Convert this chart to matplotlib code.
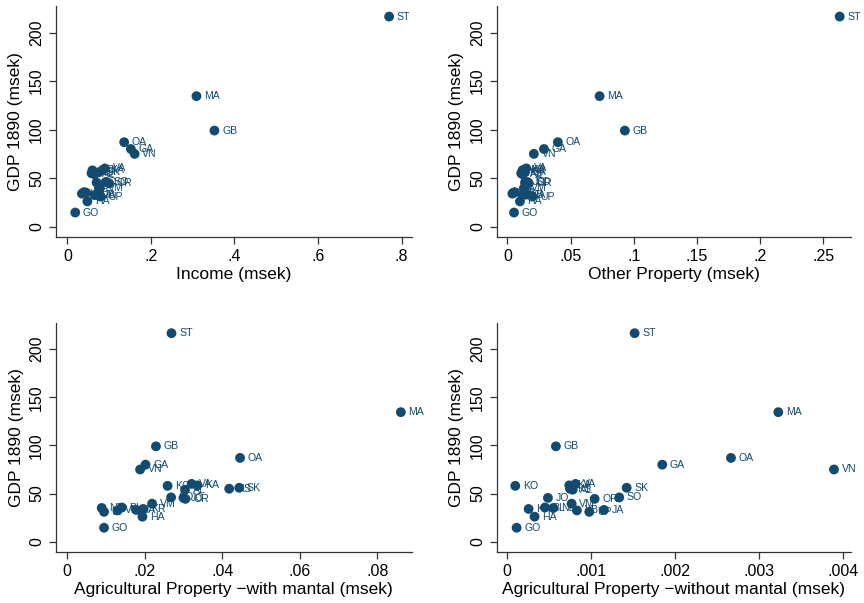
import matplotlib
matplotlib.use("Agg")
import matplotlib.pyplot as plt

plt.rcParams['font.family'] = ['Liberation Sans', 'DejaVu Sans']

counties = ["ST", "MA", "GB", "OA", "GA", "VN", "VA", "KA", "KO", "SK", "KS", "AL",
            "SO", "JO", "OR", "VM", "KR", "BL", "NB", "VB", "JA", "UP", "HA", "GO"]

gdp = [216.5, 134.5, 99, 87, 80, 75, 60, 58.5, 58, 56, 55, 54,
       46, 45.5, 44.5, 39.5, 34, 35.5, 35, 32.5, 33, 31, 26, 14.5]

income = [0.770, 0.309, 0.352, 0.136, 0.152, 0.161, 0.090, 0.085, 0.060, 0.075, 0.058, 0.065,
          0.092, 0.070, 0.100, 0.078, 0.035, 0.040, 0.045, 0.065, 0.070, 0.080, 0.048, 0.019]

other_property = [0.263, 0.073, 0.093, 0.040, 0.029, 0.021, 0.015, 0.013, 0.012, 0.014, 0.011, 0.012,
                  0.016, 0.014, 0.017, 0.013, 0.004, 0.006, 0.005, 0.012, 0.015, 0.0198, 0.010, 0.0053]

agri_with = [0.0269, 0.0861, 0.0229, 0.0446, 0.0202, 0.0188, 0.0321, 0.0336, 0.0259, 0.0444, 0.0418, 0.0304,
             0.0268, 0.0300, 0.0305, 0.0219, 0.0196, 0.0141, 0.0089, 0.0130, 0.0178, 0.0095, 0.0194, 0.0095]

agri_without = [0.001516, 0.003226, 0.000579, 0.002663, 0.001845, 0.003889, 0.000813, 0.000738, 0.000095,
                0.001421, 0.000746, 0.000778, 0.001333, 0.000484, 0.00104, 0.000766, 0.000254, 0.000448,
                0.000548, 0.000829, 0.001151, 0.000976, 0.000325, 0.000111]

xtitles = ["Income (msek)", "Other Property (msek)",
           "Agricultural Property \u2212with mantal (msek)",
           "Agricultural Property \u2212without mantal (msek)"]
xticks = [[0, 0.2, 0.4, 0.6, 0.8],
          [0, 0.05, 0.1, 0.15, 0.2, 0.25],
          [0, 0.02, 0.04, 0.06, 0.08],
          [0, 0.001, 0.002, 0.003, 0.004]]
xticklabels = [["0", ".2", ".4", ".6", ".8"],
               ["0", ".05", ".1", ".15", ".2", ".25"],
               ["0", ".02", ".04", ".06", ".08"],
               ["0", ".001", ".002", ".003", ".004"]]
xlims = [(-0.0278, 0.824), (-0.0084, 0.2717), (-0.0029, 0.0889), (-0.000126, 0.004088)]
yticks = [0, 50, 100, 150, 200]

W, H = 864, 603
fig = plt.figure(figsize=(W / 100, H / 100), dpi=100)
# axes boxes in pixels: left, top, right, bottom
boxes = [(55.7, 6, 411.7, 237.3), (496.7, 6, 850.7, 237.3),
         (56, 322.7, 411.7, 552.3), (496.7, 322.7, 850.7, 552.3)]
series = [income, other_property, agri_with, agri_without]
color = "#134a70"

for i in range(4):
    l, t, r, b = boxes[i]
    ax = fig.add_axes([l / W, 1 - b / H, (r - l) / W, (b - t) / H])
    xs = series[i]
    ax.scatter(xs, gdp, s=50, color=color, edgecolors='none', zorder=3)
    for x, y, name in zip(xs, gdp, counties):
        ax.annotate(name, (x, y), xytext=(5.5, 0), textcoords='offset points',
                    va='center', ha='left', fontsize=7.6, color=color, zorder=4)
    ax.set_xlim(*xlims[i])
    ax.set_ylim(-11, 227.4)
    ax.set_xticks(xticks[i])
    ax.set_xticklabels(xticklabels[i])
    ax.set_yticks(yticks)
    ax.set_yticklabels([str(v) for v in yticks], rotation=90, va='center')
    ax.spines['top'].set_visible(False)
    ax.spines['right'].set_visible(False)
    for sp in ('left', 'bottom'):
        ax.spines[sp].set_color('#333333')
        ax.spines[sp].set_linewidth(0.9)
    ax.tick_params(axis='both', direction='out', length=5, width=0.9, colors='#333333',
                   labelsize=11.5, labelcolor='black')
    ax.set_xlabel(xtitles[i], fontsize=12.5, labelpad=2)
    ax.set_ylabel("GDP 1890 (msek)", fontsize=12.5, labelpad=4)
    ax.patch.set_alpha(0)

fig.savefig("out.png", dpi=100, facecolor='white')
